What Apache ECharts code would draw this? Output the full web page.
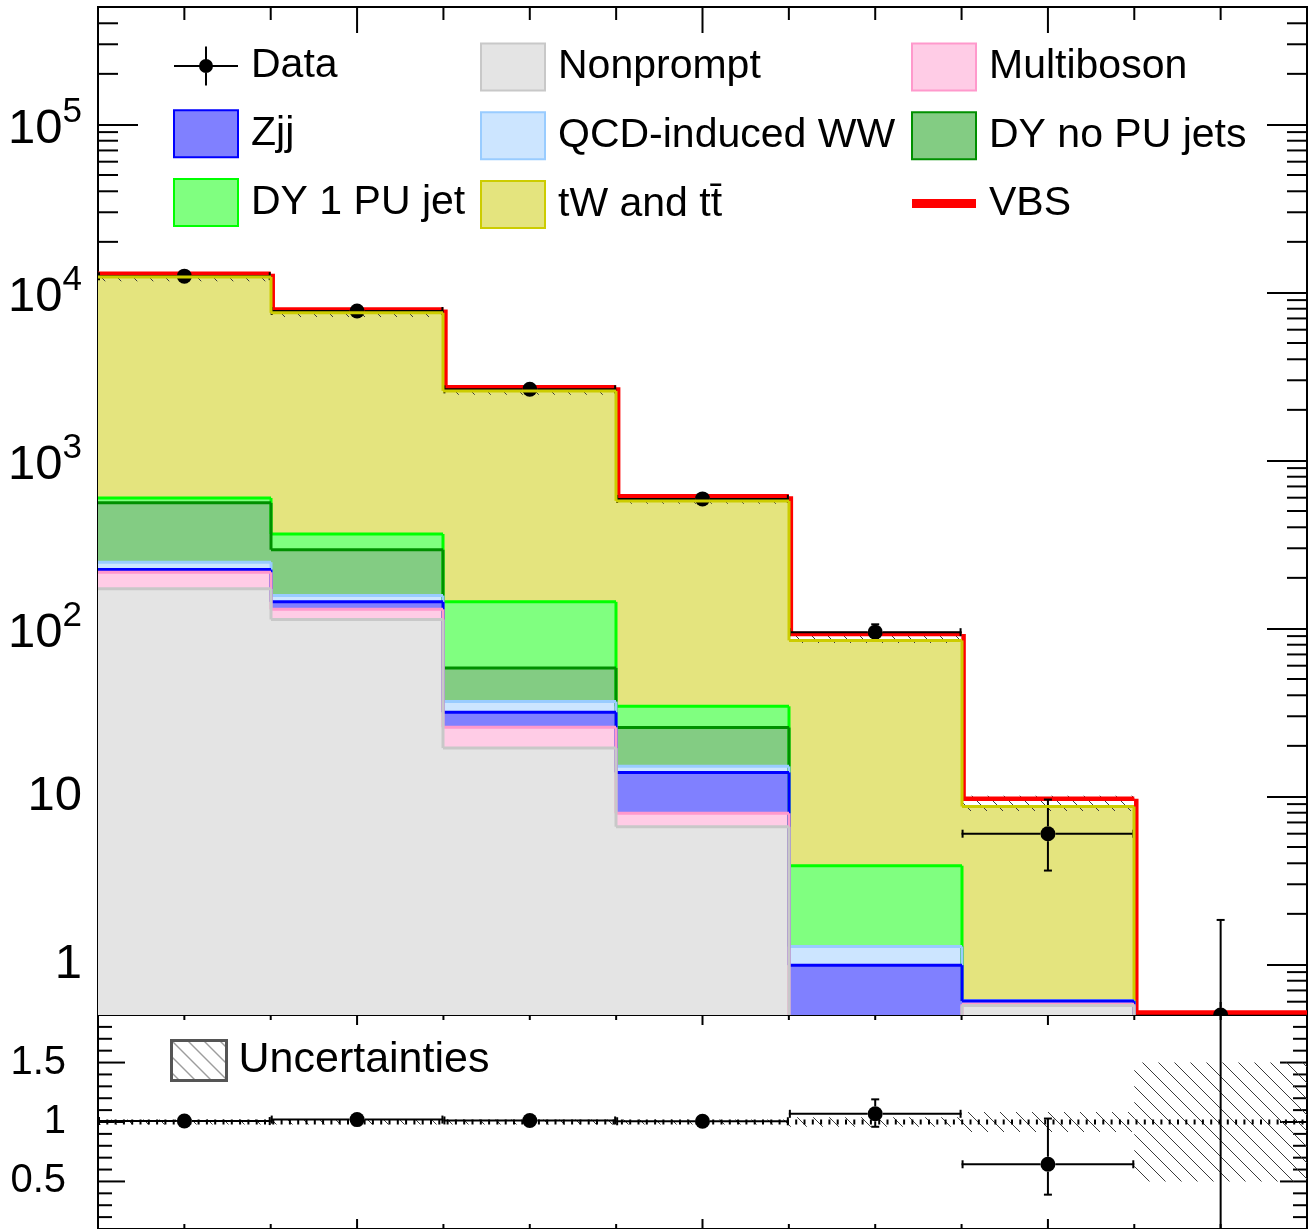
<!DOCTYPE html>
<html><head><meta charset="utf-8">
<script src="https://cdn.jsdelivr.net/npm/echarts@6/dist/echarts.min.js"></script>
<style>html,body{margin:0;padding:0;background:#fff}#c{width:1308px;height:1229px}</style>
</head><body><div id="c"></div>
<script>
// ---------------- data ----------------
const binEdges   = [0, 1, 2, 3, 4, 5, 6, 7];
const nonprompt  = [172, 113, 19.4, 6.6, 0, 0.57, 0];
const multiboson = [44, 17, 6.4, 1.34, 0, 0.01, 0];
const zjj        = [8, 14, 5.9, 5.96, 0.99, 0.025, 0];
const qcdWW      = [24, 13, 5.0, 1.2, 0.29, 0.005, 0];
const dyNoPU     = [311, 137, 21.5, 10.6, 0, 0, 0];
const dy1PU      = [39, 71, 85.8, 8.7, 2.59, 0, 0];
const tWtt       = [11770, 7200, 2450, 540, 81, 8.1, 0.28];
const vbs        = [35, 30, 22, 12, 4, 0.6, 0.02];
const obs        = [12500, 7750, 2650, 590, 95, 6, 0];
const obsErrLo   = [112, 88, 51, 24, 9.7, 2.38, 0];
const obsErrHi   = [113, 89, 52, 25, 10.8, 3.58, 1.84];
const relUnc     = [0.02, 0.02, 0.02, 0.02, 0.04, 0.085, 0.5];

const yMin = 0.5, yMax = 5e5, rMin = 0.1, rMax = 1.9;
const xMajorTicks = [1.5, 3.5, 5.5];
const xMinorTicks = [0.5, 1, 2, 2.5, 3, 4, 4.5, 5, 6, 6.5];
const yMinorTicks = [0.6,0.7,0.8,0.9, 2,3,4,5,6,7,8,9, 20,30,40,50,60,70,80,90,
  200,300,400,500,600,700,800,900, 2000,3000,4000,5000,6000,7000,8000,9000,
  20000,30000,40000,50000,60000,70000,80000,90000, 200000,300000,400000];
const rMajorTicks = [0.5, 1, 1.5];
const rMinorTicks = [0.2,0.3,0.4,0.6,0.7,0.8,0.9,1.1,1.2,1.3,1.4,1.6,1.7,1.8];

const processNames = ['Nonprompt','Multiboson','Zjj','QCD-induced WW','DY no PU jets','DY 1 PU jet','tW and t\u0074\u0304'];
const processValues = [nonprompt, multiboson, zjj, qcdWW, dyNoPU, dy1PU, tWtt];
// styles
const processFill = ['#e4e4e4','#ffcce6','#8080ff','#cce5ff','#83cc83','#80ff80','#e4e47e'];
const processLine = ['#c8c8c8','#ff99cc','#0000ff','#99ccff','#009000','#00ff00','#cccc00'];
const FONT = 'Liberation Sans';

// ---------------- derived ----------------
const nb = binEdges.length - 1;
const cum = [];
processValues.forEach((arr, p) => {
  cum.push(arr.map((v, i) => v + (p > 0 ? cum[p-1][i] : 0)));
});
const total = cum[cum.length-1].map((v, i) => v + vbs[i]);

function makeHatch() {
  const c = document.createElement('canvas');
  c.width = 16; c.height = 16;
  const g = c.getContext('2d');
  g.strokeStyle = '#3a3a3a'; g.lineWidth = 1;
  g.beginPath();
  [-16, 0, 16].forEach(dx => { g.moveTo(dx - 2, -2); g.lineTo(dx + 18, 18); });
  g.stroke();
  return c;
}
const hatchCanvas = makeHatch();
const hatchFill = { image: hatchCanvas, repeat: 'repeat' };

// ---------------- render helpers ----------------
function histRender(fill, stroke, lw) {
  return function (params, api) {
    const cs = params.coordSys, bottom = cs.y + cs.height;
    const i = api.value(0), top = api.value(1), next = api.value(2);
    const x0 = Math.round(api.coord([i, yMin])[0]);
    const x1 = Math.round(api.coord([i + 1, yMin])[0]);
    const yp = v => (v <= yMin ? bottom : api.coord([i, v])[1]);
    const yt = yp(top);
    const ch = [];
    if (top > yMin) {
      ch.push({ type: 'rect', z2: 0, shape: { x: x0, y: yt, width: x1 - x0, height: bottom - yt }, style: { fill: fill } });
      ch.push({ type: 'line', z2: 10, shape: { x1: x0, y1: yt, x2: x1, y2: yt }, style: { stroke: stroke, lineWidth: lw } });
    }
    if (i < nb - 1 && (top > yMin || next > yMin)) {
      ch.push({ type: 'line', z2: 10, shape: { x1: x1, y1: yt, x2: x1, y2: yp(next) }, style: { stroke: stroke, lineWidth: lw } });
    }
    return { type: 'group', children: ch };
  };
}

function vbsRender(params, api) {
  const cs = params.coordSys, bottom = cs.y + cs.height;
  const i = api.value(0), top = api.value(1), next = api.value(2);
  const x0 = api.coord([i, yMin])[0], x1 = api.coord([i + 1, yMin])[0];
  const yp = v => (v <= yMin ? bottom - 2.5 : api.coord([i, v])[1] - 3);
  const yt = yp(top);
  const ch = [{ type: 'line', shape: { x1: x0, y1: yt, x2: x1, y2: yt }, style: { stroke: '#ff0000', lineWidth: 4.5 } }];
  if (i < nb - 1) ch.push({ type: 'line', shape: { x1: x1 + 2, y1: yt, x2: x1 + 2, y2: yp(next) }, style: { stroke: '#ff0000', lineWidth: 4.5 } });
  return { type: 'group', children: ch };
}

function bandRender(isLog) {
  return function (params, api) {
    const cs = params.coordSys, bottom = cs.y + cs.height;
    const i = api.value(0), lo = api.value(1), hi = api.value(2);
    const base = isLog ? yMin : rMin;
    const x0 = api.coord([i, base])[0], x1 = api.coord([i + 1, base])[0];
    const yp = v => (isLog && v <= yMin ? bottom : api.coord([i, v])[1]);
    const yh = yp(hi), yl = yp(lo) + (isLog ? 3 : 0);
    return {
      type: 'group',
      clipPath: { type: 'rect', shape: { x: cs.x, y: cs.y, width: cs.width, height: cs.height } },
      children: [{ type: 'rect', shape: { x: x0, y: yh, width: x1 - x0, height: Math.max(0, yl - yh) }, style: { fill: hatchFill } }]
    };
  };
}

function pointRender(isLog) {
  return function (params, api) {
    const cs = params.coordSys, bottom = cs.y + cs.height;
    const i = api.value(0), v = api.value(1), lo = api.value(2), hi = api.value(3);
    const base = isLog ? yMin : rMin;
    const x0 = api.coord([i, base])[0], x1 = api.coord([i + 1, base])[0], xc = api.coord([i + 0.5, base])[0];
    const yp = val => (isLog && val <= yMin ? bottom : api.coord([i, val])[1]);
    const yc = yp(v), yh = yp(hi), yl = yp(lo);
    const r = 7.5, cap = 4, st = { stroke: '#000', lineWidth: 2 };
    const ch = [];
    const below = isLog && v <= yMin;
    if (!below) {
      ch.push({ type: 'line', shape: { x1: x0, y1: yc, x2: xc - r, y2: yc }, style: st });
      ch.push({ type: 'line', shape: { x1: xc + r, y1: yc, x2: x1, y2: yc }, style: st });
      ch.push({ type: 'line', shape: { x1: x0 + 1, y1: yc - cap, x2: x0 + 1, y2: yc + cap }, style: st });
      ch.push({ type: 'line', shape: { x1: x1 - 1, y1: yc - cap, x2: x1 - 1, y2: yc + cap }, style: st });
    }
    if (yc - yh > r) {
      ch.push({ type: 'line', shape: { x1: xc, y1: yc - r, x2: xc, y2: yh }, style: st });
      ch.push({ type: 'line', shape: { x1: xc - cap, y1: yh, x2: xc + cap, y2: yh }, style: st });
    }
    if (yl - yc > r) {
      ch.push({ type: 'line', shape: { x1: xc, y1: yc + r, x2: xc, y2: yl }, style: st });
      ch.push({ type: 'line', shape: { x1: xc - cap, y1: yl, x2: xc + cap, y2: yl }, style: st });
    }
    ch.push({ type: 'circle', shape: { cx: xc, cy: yc, r: r }, style: { fill: '#000' } });
    return {
      type: 'group',
      clipPath: { type: 'rect', shape: { x: cs.x, y: cs.y, width: cs.width, height: cs.height } },
      children: ch
    };
  };
}

function yTickRender(majLen, minLen) {
  return function (params, api) {
    const cs = params.coordSys;
    const v = api.value(1), major = api.value(2) === 1;
    const y = api.coord([0, v])[1];
    const L = major ? majLen : minLen;
    const st = { stroke: '#000', lineWidth: 2 };
    return { type: 'group', children: [
      { type: 'line', shape: { x1: cs.x, y1: y, x2: cs.x + L, y2: y }, style: st },
      { type: 'line', shape: { x1: cs.x + cs.width - L, y1: y, x2: cs.x + cs.width, y2: y }, style: st }
    ] };
  };
}
function xTickRender(base, majLen, minLen) {
  return function (params, api) {
    const cs = params.coordSys;
    const x = api.coord([api.value(0), base])[0], major = api.value(2) === 1;
    const L = major ? majLen : minLen;
    const st = { stroke: '#000', lineWidth: 2 };
    return { type: 'group', children: [
      { type: 'line', shape: { x1: x, y1: cs.y, x2: x, y2: cs.y + L }, style: st },
      { type: 'line', shape: { x1: x, y1: cs.y + cs.height - L, x2: x, y2: cs.y + cs.height }, style: st }
    ] };
  };
}

// ---------------- series ----------------
const series = [];
const xTickData = xMajorTicks.map(x => [x, 1, 1]).concat(xMinorTicks.map(x => [x, 1, 0]));
series.push({ type: 'custom', name: '_yt0', xAxisIndex: 0, yAxisIndex: 0, encode: { x: 0, y: 1 }, silent: true,
  renderItem: yTickRender(40, 20), data: yMinorTicks.map(v => [0, v, 0]) });
series.push({ type: 'custom', name: '_xt0', xAxisIndex: 0, yAxisIndex: 0, encode: { x: 0, y: 1 }, silent: true,
  renderItem: xTickRender(yMin, 26, 13), data: xTickData });
series.push({ type: 'custom', name: '_yt1', xAxisIndex: 1, yAxisIndex: 2, encode: { x: 0, y: 1 }, silent: true,
  renderItem: yTickRender(27, 14), data: rMajorTicks.map(v => [0, v, 1]).concat(rMinorTicks.map(v => [0, v, 0])) });
series.push({ type: 'custom', name: '_xt1', xAxisIndex: 1, yAxisIndex: 2, encode: { x: 0, y: 1 }, silent: true,
  renderItem: xTickRender(rMin, 10, 5), data: xTickData });

// stacked histograms, drawn from the top of the stack downward (ROOT THStack style)
for (let p = processValues.length - 1; p >= 0; p--) {
  const c = cum[p];
  series.push({
    type: 'custom', name: processNames[p], xAxisIndex: 0, yAxisIndex: 0, encode: { x: 0, y: 1 }, silent: true,
    itemStyle: { color: processFill[p] },
    renderItem: histRender(processFill[p], processLine[p], 3),
    data: c.map((v, i) => [i, Math.max(v, 1e-3), i < nb - 1 ? Math.max(c[i + 1], 1e-3) : 1e-3])
  });
}
// uncertainty band (main)
series.push({ type: 'custom', name: 'Uncertainties', xAxisIndex: 0, yAxisIndex: 0, encode: { x: 0, y: 1 }, silent: true,
  renderItem: bandRender(true),
  data: total.map((t, i) => [i, t * (1 - relUnc[i]), t * (1 + relUnc[i])]) });
// VBS line on top of the stack
series.push({ type: 'custom', name: 'VBS', xAxisIndex: 0, yAxisIndex: 0, encode: { x: 0, y: 1 }, silent: true,
  itemStyle: { color: '#ff0000' }, renderItem: vbsRender,
  data: total.map((t, i) => [i, t, i < nb - 1 ? total[i + 1] : 1e-3]) });
// data points (main)
series.push({ type: 'custom', name: 'Data', xAxisIndex: 0, yAxisIndex: 0, encode: { x: 0, y: 1 }, silent: true,
  itemStyle: { color: '#000' }, renderItem: pointRender(true),
  data: obs.map((d, i) => [i, Math.max(d, 1e-3), Math.max(d - obsErrLo[i], 1e-3), d + obsErrHi[i]]) });

// ratio panel
series.push({ type: 'custom', name: 'Uncertainties', xAxisIndex: 1, yAxisIndex: 2, encode: { x: 0, y: 1 }, silent: true,
  renderItem: bandRender(false),
  data: total.map((t, i) => [i, 1 - relUnc[i], 1 + relUnc[i]]) });
series.push({ type: 'line', name: '_one', xAxisIndex: 1, yAxisIndex: 2, silent: true, symbol: 'none',
  lineStyle: { color: '#000', width: 5, type: [2, 6.3] }, data: [[0, 1], [7, 1]] });
series.push({ type: 'custom', name: 'Data', xAxisIndex: 1, yAxisIndex: 2, encode: { x: 0, y: 1 }, silent: true,
  renderItem: pointRender(false),
  data: obs.map((d, i) => [i, d / total[i], (d - obsErrLo[i]) / total[i], (d + obsErrHi[i]) / total[i]]) });

// ---------------- legend ----------------
const corners = 'M0,0h0.01v0.01h-0.01zM63.99,46.99h0.01v0.01h-0.01z';
const dataIcon = 'path://' + corners + 'M0,22.5h64v2h-64zM31,4h2v39h-2zM39,23.5a7,7 0 1,1 -14,0a7,7 0 1,1 14,0z';
const vbsIcon = 'path://' + corners + 'M0,19h64v9h-64z';
const legText = { fontFamily: FONT, fontSize: 41, color: '#000', padding: [0, 0, 0, 8] };
function boxItem(p) {
  return { name: processNames[p], icon: 'rect', itemStyle: { color: processFill[p], borderColor: processLine[p], borderWidth: 2 } };
}
const legBase = { orient: 'vertical', itemWidth: 64, itemHeight: 47, itemGap: 19.7, padding: 0, selectedMode: false, textStyle: legText, top: 42.5 };
const legends = [
  Object.assign({}, legBase, { left: 173, data: [
    { name: 'Data', icon: dataIcon, itemStyle: { color: '#000', borderWidth: 0 } }, boxItem(2), boxItem(5) ] }),
  Object.assign({}, legBase, { left: 480, data: [ boxItem(0), boxItem(3), boxItem(6) ] }),
  Object.assign({}, legBase, { left: 911, data: [ boxItem(1), boxItem(4),
    { name: 'VBS', icon: vbsIcon, itemStyle: { color: '#ff0000', borderWidth: 0 } } ] }),
  { orient: 'vertical', left: 170, top: 1039, itemWidth: 55, itemHeight: 40, padding: 0, selectedMode: false,
    textStyle: { fontFamily: FONT, fontSize: 43, color: '#000', padding: [0, 0, 0, 7] },
    data: [{ name: 'Uncertainties', icon: 'rect', itemStyle: { color: hatchFill, borderColor: '#555', borderWidth: 3 } }] }
];

// ---------------- axes ----------------
function logLabel(v) {
  const l = Math.log10(v), e = Math.round(l);
  if (Math.abs(l - e) > 1e-6) return '';
  if (e === 0) return '{b|1}';
  if (e === 1) return '{b|10}';
  return '{bp|10}{s|' + e + '}';
}
const option = {
  animation: false,
  backgroundColor: '#fff',
  grid: [
    { left: 98, top: 7, width: 1209, height: 1008, show: true, borderColor: '#000', borderWidth: 2, backgroundColor: 'transparent' },
    { left: 98, top: 1015, width: 1209, height: 215, show: true, borderColor: '#000', borderWidth: 2, backgroundColor: 'transparent' }
  ],
  xAxis: [
    { gridIndex: 0, type: 'value', min: binEdges[0], max: binEdges[nb], show: false },
    { gridIndex: 1, type: 'value', min: binEdges[0], max: binEdges[nb], show: false }
  ],
  yAxis: [
    { gridIndex: 0, type: 'log', logBase: 10, min: yMin, max: yMax, splitNumber: 6,
      axisLine: { show: false }, splitLine: { show: false },
      axisTick: { show: true, inside: true, length: 40, lineStyle: { color: '#000', width: 2 } },
      axisLabel: { margin: 16, formatter: logLabel, color: '#000',
        rich: {
          b: { fontFamily: FONT, fontSize: 49, color: '#000' },
          bp: { fontFamily: FONT, fontSize: 49, color: '#000', padding: [10, 0, 0, 0] },
          s: { fontFamily: FONT, fontSize: 35, color: '#000', verticalAlign: 'top' }
        } } },
    { gridIndex: 0, type: 'log', logBase: 10, min: yMin, max: yMax, splitNumber: 6, position: 'right',
      axisLine: { show: false }, splitLine: { show: false }, axisLabel: { show: false },
      axisTick: { show: true, inside: true, length: 40, lineStyle: { color: '#000', width: 2 } } },
    { gridIndex: 1, type: 'value', min: rMin, max: rMax, interval: 0.1,
      axisLine: { show: false }, splitLine: { show: false }, axisTick: { show: false },
      axisLabel: { margin: 32, color: '#000', fontFamily: FONT, fontSize: 40,
        formatter: v => { const r = Math.round(v * 10) / 10; return rMajorTicks.indexOf(r) >= 0 ? String(r) : ''; } } }
  ],
  legend: legends,
  series: series
};
const chart = echarts.init(document.getElementById('c'));
chart.setOption(option);
</script>
</body></html>
